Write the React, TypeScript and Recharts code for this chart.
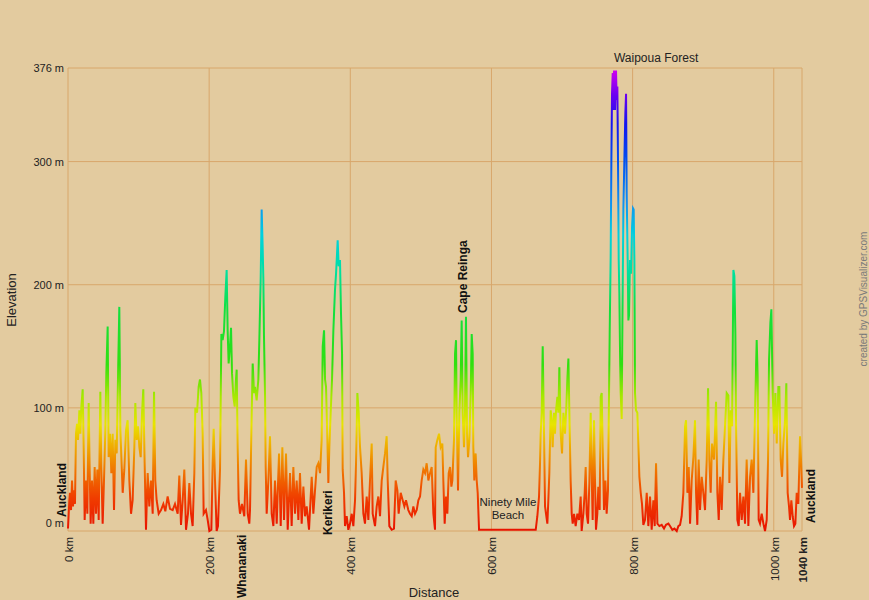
import React from 'react';
import { LineChart, Line, XAxis, YAxis, CartesianGrid, ReferenceDot } from 'recharts';

// [distance km, elevation m]
const aucklandToWhananaki: [number, number][] = [
  [0, 2], [1.9, 25], [2.8, 31], [4.3, 17], [5.7, 41], [7.1, 20], [8.5, 33], [9.9, 22],
  [11.3, 79], [12.8, 87], [14.2, 74], [16.1, 98], [17.5, 79], [18.9, 101], [20.8, 115], [22.2, 68],
  [23.6, 9], [25.5, 41], [27.4, 14], [29.3, 104], [30.7, 50], [32.1, 6], [34.0, 41], [35.9, 6],
  [37.8, 52], [39.7, 14], [41.6, 50], [43.5, 9], [45.8, 113], [47.2, 52], [49.1, 6], [51.0, 41],
  [52.9, 82], [54.3, 128], [56.2, 166], [57.6, 60], [59.5, 79], [61.4, 47], [63.3, 79], [65.2, 17],
  [67.1, 74], [69.0, 63], [70.8, 123], [72.7, 182], [74.2, 82], [75.6, 60], [77.5, 31], [79.8, 50],
  [82.2, 82], [84.5, 90], [86.9, 41], [89.3, 14], [91.6, 25], [94.0, 68], [95.4, 104], [97.3, 74],
  [99.2, 85], [101.1, 68], [103.0, 60], [104.9, 96], [106.7, 115], [108.6, 55], [110.5, 1], [112.9, 47],
  [115.2, 20], [117.6, 41], [120.0, 14], [121.9, 113], [123.7, 41], [125.6, 25], [128.5, 14], [131.8, 17],
  [135.1, 22], [137.9, 16], [141.2, 28], [144.5, 18], [148.3, 17], [151.6, 22], [155.4, 14], [157.7, 45],
  [160.1, 5], [162.5, 25], [164.8, 50], [167.2, 1], [170.0, 14], [171.9, 39], [174.3, 14], [176.6, 4],
  [179.0, 47], [180.4, 100], [182.8, 96], [185.1, 117], [187.0, 123], [188.9, 112], [190.8, 79], [192.2, 14],
  [195.5, 17], [197.9, 9], [200.3, 0], [203.1, 1], [205.0, 55], [206.4, 83], [208.3, 41], [210.6, 0],
  [212.5, 4], [215.4, 50], [217.3, 160], [219.1, 155], [221.0, 162], [222.9, 190], [224.8, 212], [226.2, 163],
  [227.6, 136], [229.5, 150], [231.0, 165], [232.4, 128], [234.3, 109], [236.2, 101], [238.0, 123], [239.0, 131],
  [240.4, 68], [241.8, 25], [243.7, 14], [246.5, 22],
];

const whananakiToKerikeri: [number, number][] = [
  [249.8, 12], [252.2, 58], [254.6, 14], [256.9, 6], [257.9, 17], [260.3, 96], [261.7, 136], [263.6, 112],
  [265.0, 117], [267.3, 106], [269.7, 123], [271.1, 155], [273.0, 204], [274.4, 261], [275.8, 231], [276.8, 204],
  [277.7, 158], [279.2, 109], [280.1, 52], [281.5, 14], [283.9, 41], [286.2, 77], [288.6, 14], [291.0, 4],
  [293.3, 41], [295.7, 6], [299.0, 63], [301.4, 4], [303.7, 68], [306.1, 9], [308.9, 63], [311.3, 1],
  [314.6, 47], [316.9, 4], [319.3, 52], [321.7, 14], [324.0, 41], [326.4, 9], [328.7, 47], [331.1, 6],
  [333.5, 36], [335.8, 12], [338.2, 20], [341.5, 1], [345.3, 44], [347.6, 14], [352.4, 52], [354.7, 55],
  [357.1, 47], [359.4, 74], [360.9, 150], [362.8, 163], [364.2, 123], [365.6, 117], [367.5, 74], [368.9, 39],
];

const kerikeriToCapeReinga: [number, number][] = [
  [370.3, 68], [372.2, 96], [374.1, 123], [376.0, 163], [378.3, 196], [379.8, 209], [382.1, 236], [383.5, 215],
  [385.4, 220], [386.8, 177], [388.3, 144], [389.2, 50], [391.1, 31], [392.5, 4], [394.9, 12], [397.2, 1],
  [399.6, 6], [402.0, 14], [404.3, 4], [406.7, 25], [408.1, 55], [410.0, 112], [411.9, 96], [413.8, 68],
  [416.1, 47], [418.5, 14], [420.8, 6], [423.2, 28], [425.6, 9], [427.9, 41], [430.3, 71], [431.7, 14],
  [435.0, 4], [437.4, 20], [439.7, 28], [442.1, 12], [444.5, 41], [446.8, 52], [449.2, 63], [451.5, 77],
  [453.0, 41], [455.3, 4], [458.6, 1], [461.9, 2], [464.3, 41], [466.7, 33], [468.5, 14], [471.4, 31],
  [474.2, 25], [476.6, 20], [478.9, 25], [482.2, 17], [484.6, 14], [487.0, 12], [489.3, 20], [491.7, 14],
  [494.1, 17], [496.4, 25], [498.8, 28], [501.1, 41], [503.5, 50], [505.9, 47], [508.2, 55], [510.6, 41],
  [513.0, 47], [515.3, 52], [517.7, 14], [520.0, 1], [521.0, 68], [523.3, 74], [525.7, 79], [528.0, 68],
  [530.4, 71], [531.8, 41], [533.7, 6], [535.6, 28], [537.5, 14], [539.4, 47], [541.3, 52], [543.2, 36],
  [544.6, 41], [546.9, 74], [548.4, 144], [549.8, 155], [550.7, 96], [552.6, 33], [554.5, 96], [556.4, 123],
  [557.8, 171], [559.2, 96],
];

const capeReingaToWaipoua: [number, number][] = [
  [561.1, 68], [562.5, 96], [563.9, 174], [565.4, 79], [566.8, 60], [568.7, 74], [570.6, 112], [572.0, 160],
  [573.4, 144], [574.3, 68], [575.7, 41], [577.6, 63], [579.1, 41], [580.5, 31], [582.4, 1], [662.7, 1],
  [665.0, 12], [667.4, 28], [668.8, 55], [669.7, 79], [671.2, 96], [672.6, 150], [674.5, 79], [675.9, 20],
  [677.3, 14], [679.2, 6], [680.6, 25], [682.0, 47], [683.9, 98], [685.3, 90], [686.7, 68], [688.6, 96],
  [690.0, 79], [691.5, 98], [693.4, 109], [694.8, 96], [696.2, 133], [698.1, 79], [700.0, 63], [701.9, 96],
  [704.2, 79], [706.1, 101], [707.5, 123], [709.0, 140], [710.4, 96], [712.2, 41], [713.7, 14], [715.1, 6],
  [717.0, 14], [719.3, 4], [721.7, 14], [724.0, 9], [726.4, 28], [727.8, 0], [730.2, 14], [732.1, 31],
  [733.5, 52], [734.9, 14], [736.8, 6], [738.7, 39], [740.6, 96], [742.0, 47], [743.4, 9], [745.3, 90],
  [746.7, 41], [748.1, 1], [750.0, 14], [751.4, 36], [753.3, 17], [754.8, 109], [756.2, 112], [757.6, 68],
  [759.5, 17], [761.4, 41], [763.2, 14], [765.1, 33], [767.5, 160], [768.9, 223], [769.9, 301], [770.8, 355],
  [771.8, 372], [772.7, 342], [773.7, 374],
];

const waipouaToAuckland: [number, number][] = [
  [775.1, 342], [776.5, 374], [777.4, 350], [778.4, 361], [779.3, 301], [780.3, 220], [781.2, 193], [782.2, 144],
  [783.1, 112], [784.5, 91], [785.5, 166], [786.9, 261], [788.3, 301], [789.7, 339], [790.7, 355], [791.6, 274],
  [793.0, 220], [794.0, 171], [794.9, 175], [796.3, 220], [797.8, 209], [799.2, 247], [800.6, 262], [801.5, 261],
  [802.5, 220], [803.4, 112], [804.8, 98], [806.7, 96], [808.1, 71], [809.6, 44], [811.5, 31], [813.3, 22],
  [815.2, 5], [817.6, 9], [820.0, 31], [822.3, 4], [824.7, 28], [827.0, 1], [829.4, 25], [831.3, 4],
  [833.2, 55], [835.1, 6], [837.9, 4], [841.2, 5], [844.5, 2], [847.3, 5], [850.7, 6], [853.0, 4],
  [856.3, 1], [859.2, 2], [862.5, 0], [864.8, 4], [867.2, 5], [869.5, 12], [871.9, 31], [874.3, 85],
  [875.7, 90], [877.6, 31], [879.5, 52], [881.4, 6], [883.7, 41], [886.1, 60], [888.4, 90], [889.9, 31],
  [891.7, 5], [893.6, 58], [895.5, 17], [897.9, 44], [900.2, 31], [902.6, 17], [905.0, 58], [906.9, 116],
  [908.7, 58], [910.6, 31], [912.5, 71], [915.4, 58], [918.2, 105], [920.1, 31], [922.0, 9], [923.9, 44],
  [926.2, 17], [928.6, 58], [930.9, 85], [933.3, 112], [935.7, 110], [937.1, 39], [939.0, 98], [940.9, 85],
  [942.8, 212], [944.2, 207], [945.6, 160], [946.5, 90], [948.4, 9], [950.3, 4], [952.2, 31], [954.6, 9],
  [956.9, 28], [959.3, 6], [961.6, 58], [964.0, 4], [966.4, 44], [968.7, 58], [971.1, 31], [973.4, 96],
  [975.8, 155], [977.2, 125], [978.6, 9], [980.5, 6], [982.9, 14], [985.3, 6], [987.6, 0], [990.0, 9],
  [991.9, 58], [993.3, 139], [995.2, 169], [996.6, 180], [998.5, 112], [1000.4, 79], [1002.3, 112], [1004.2, 71],
  [1006.5, 117], [1007.9, 117], [1009.8, 58], [1011.7, 44], [1013.6, 71], [1016.0, 90], [1017.8, 120], [1019.7, 31],
  [1021.6, 20], [1023.0, 9], [1024.9, 25], [1026.8, 12], [1028.7, 4], [1030.6, 6], [1032.5, 31], [1034.8, 22],
  [1037.2, 77], [1038.6, 58], [1040, 35],
];

const distanceTicks = [0, 200, 400, 600, 800, 1000, 1040];
const elevationTicks = [0, 100, 200, 300, 376];

const waypointNames = ['Auckland', 'Whananaki', 'Kerikeri', 'Cape Reinga', 'Ninety Mile Beach', 'Waipoua Forest', 'Auckland'];
const waypointKm = [0, 246.5, 368.4, 559.7, 623.4, 773.6, 1040];

const profile = [
  ...aucklandToWhananaki,
  ...whananakiToKerikeri,
  ...kerikeriToCapeReinga,
  ...capeReingaToWaipoua,
  ...waipouaToAuckland,
].map(([km, m]) => ({ km, m }));

const W = 869;
const H = 600;
const BG = '#E3CB9F';
const GRID = '#D8A76B';
const FONT = '"Liberation Sans", Arial, sans-serif';

// where each waypoint label sits relative to its point on the axis
const labelLayout = [
  { elev: 0, dx: -6, dy: -14, vertical: true },
  { elev: 0, dx: 0, dy: 67, vertical: true },
  { elev: 0, dx: 0, dy: 4, vertical: true },
  { elev: 0, dx: 0, dy: -218, vertical: true },
  { elev: 0, dx: 0, dy: -25, vertical: false },
  { elev: 376, dx: 0, dy: -6, vertical: false },
  { elev: 0, dx: 9, dy: -8, vertical: true },
];

const DistanceTick = (props: any) => {
  const { x, y, payload } = props;
  const v = payload.value;
  return (
    <text
      transform={`translate(${x + 1},${y}) rotate(-90)`}
      textAnchor="end"
      dominantBaseline="central"
      fontSize={11.5}
      fontFamily={FONT}
      fontWeight={v === 1040 ? 700 : 400}
      fill="#222"
    >
      {`${v} km`}
    </text>
  );
};

const ElevationTick = (props: any) => {
  const { x, y, payload } = props;
  return (
    <text
      x={x}
      y={y + (payload.value === 0 ? -8 : 0)}
      textAnchor="end"
      dominantBaseline="central"
      fontSize={11}
      fontFamily={FONT}
      fill="#222"
    >
      {`${payload.value} m`}
    </text>
  );
};

const makeLabel = (i: number) => (p: any) => {
  const l = labelLayout[i];
  const name = waypointNames[i];
  const x = p.cx + l.dx;
  const y = p.cy + l.dy;
  if (l.vertical) {
    return (
      <text
        transform={`translate(${x},${y}) rotate(-90)`}
        textAnchor="start"
        dominantBaseline="central"
        fontSize={12}
        fontWeight={700}
        fontFamily={FONT}
        fill="#111"
      >
        {name}
      </text>
    );
  }
  if (name === 'Ninety Mile Beach') {
    // two lines, like the original
    return (
      <g fontSize={11.5} fontFamily={FONT} fill="#222" textAnchor="middle">
        <text x={x} y={y}>Ninety Mile</text>
        <text x={x} y={y + 13}>Beach</text>
      </g>
    );
  }
  return (
    <text x={x} y={y} textAnchor="start" fontSize={12} fontFamily={FONT} fill="#222">
      {name}
    </text>
  );
};

export default function App() {
  return (
    <div style={{ position: 'absolute', left: 0, top: 0, width: W, height: H, background: BG, overflow: 'hidden' }}>
      <svg width={0} height={0} style={{ position: 'absolute' }}>
        <defs>
          <linearGradient id="elevGrad" gradientUnits="userSpaceOnUse" x1="0" y1="531" x2="0" y2="68">
            <stop offset="0" stopColor="#E81200" />
            <stop offset="0.07" stopColor="#F03C00" />
            <stop offset="0.13" stopColor="#F07400" />
            <stop offset="0.19" stopColor="#F0B400" />
            <stop offset="0.23" stopColor="#E8E400" />
            <stop offset="0.29" stopColor="#A8E800" />
            <stop offset="0.36" stopColor="#30E010" />
            <stop offset="0.48" stopColor="#10E040" />
            <stop offset="0.56" stopColor="#00E0A0" />
            <stop offset="0.64" stopColor="#00D0E0" />
            <stop offset="0.71" stopColor="#1090F0" />
            <stop offset="0.8" stopColor="#0050F0" />
            <stop offset="0.88" stopColor="#1414F0" />
            <stop offset="0.94" stopColor="#6800F0" />
            <stop offset="1" stopColor="#D800F0" />
          </linearGradient>
        </defs>
      </svg>
      <LineChart width={W} height={H} data={profile} margin={{ top: 68, right: 67, bottom: 0, left: 0 }}>
        <CartesianGrid stroke={GRID} strokeWidth={1} />
        <XAxis
          dataKey="km"
          type="number"
          domain={[0, 1040]}
          ticks={distanceTicks}
          height={69}
          axisLine={false}
          tickLine={false}
          tickSize={0}
          tickMargin={6}
          interval={0}
          tick={DistanceTick}
        />
        <YAxis
          dataKey="m"
          type="number"
          domain={[0, 376]}
          ticks={elevationTicks}
          width={68}
          axisLine={false}
          tickLine={false}
          tickSize={0}
          tickMargin={4}
          interval={0}
          tick={ElevationTick}
        />
        <Line
          type="linear"
          dataKey="m"
          stroke="url(#elevGrad)"
          strokeWidth={2}
          dot={false}
          activeDot={false}
          isAnimationActive={false}
        />
        {waypointNames.map((name, i) => (
          <ReferenceDot
            key={name + i}
            x={waypointKm[i]}
            y={labelLayout[i].elev}
            r={0}
            ifOverflow="visible"
            shape={makeLabel(i)}
          />
        ))}
      </LineChart>
      <svg width={W} height={H} style={{ position: 'absolute', left: 0, top: 0, pointerEvents: 'none' }}>
        <text transform="translate(16,300) rotate(-90)" textAnchor="middle" fontSize={13} fontFamily={FONT} fill="#222">
          Elevation
        </text>
        <text x={434} y={597} textAnchor="middle" fontSize={13} fontFamily={FONT} fill="#222">
          Distance
        </text>
        <text transform="translate(867,299) rotate(-90)" textAnchor="middle" fontSize={10} fontFamily={FONT} fill="#7a7a7a">
          created by GPSVisualizer.com
        </text>
      </svg>
    </div>
  );
}
